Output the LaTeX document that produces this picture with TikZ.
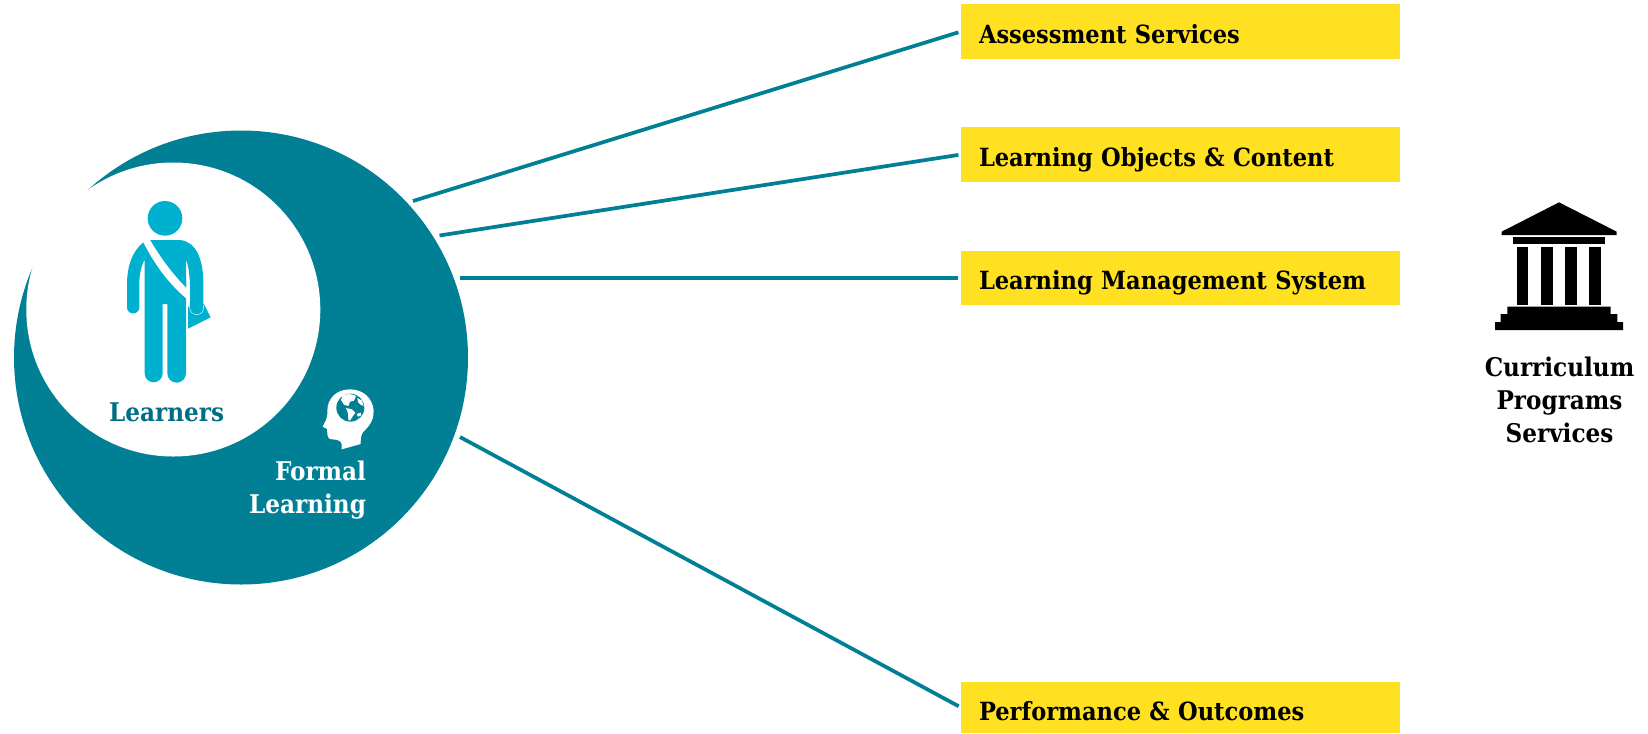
\documentclass[tikz,border=0pt]{standalone}
\usepackage{fontspec}
\setmainfont{DejaVu Serif Condensed}
\definecolor{teal1}{HTML}{007F95}
\definecolor{tealtxt}{HTML}{006F85}
\definecolor{yell}{HTML}{FFE122}
\definecolor{cyan1}{HTML}{00B0CF}
\tikzset{
  servicebox/.style={fill=yell,draw=none,anchor=north west,inner xsep=13.5pt,inner ysep=0pt,outer sep=0pt,
    text width=302.25pt,align=left,font=\fontsize{18.8pt}{22pt}\selectfont\bfseries,text=black},
  conn/.style={draw=teal1,line width=2.8pt,shorten >=2pt},
  disc/.style={circle,inner sep=0pt,outer sep=0pt,draw=none},
  lbl/.style={inner sep=0pt,outer sep=0pt,font=\fontsize{19.3pt}{24.75pt}\selectfont\bfseries}
}
\begin{document}
\begin{tikzpicture}[x=0.75pt,y=-0.75pt]
\useasboundingbox (0,0) rectangle (1648,733);
% circles
\node[disc,fill=teal1,minimum size=340.5pt] (formal) at (241,357.5) {};
\node[disc,fill=white,minimum size=220.5pt] (learnerdisc) at (173.3,309.5) {};
% person
\begin{scope}[shift={(100,180)},x=0.25pt,y=-0.25pt]
  \fill[cyan1] (195,115) circle (52);
  % bag
  \fill[cyan1] (262,380) -- (262,447) -- (332,412) -- (312,372) -- cycle;
  \draw[white,line width=1.2pt] (262,300) -- (262,447);
  \draw[white,line width=0.8pt] (310,375) -- (310,383) arc[start angle=0,end angle=180,radius=20] -- (270,370);
  % right arm with shoulder
  \fill[cyan1] (150,180) -- (240,180) .. controls (290,185) and (310,240) .. (310,310) -- (310,383)
     arc[start angle=0,end angle=180,radius=20] -- (270,310) .. controls (268,280) and (265,255) .. (258,238) -- (258,355) -- (215,300) -- cycle;
  % torso and left arm
  \fill[cyan1] (130,187) .. controls (95,215) and (82,260) .. (81,310) -- (81,382)
     arc[start angle=180,end angle=0,radius=18.5] -- (118,310) .. controls (118,280) and (125,255) .. (134,238)
     -- (134,580) arc[start angle=180,end angle=0,radius=27] -- (188,372) -- (202,372) -- (202,580)
     arc[start angle=180,end angle=0,radius=28] -- (258,300) -- (258,355) -- cycle;
  \fill[cyan1] (134,230) rectangle (258,372);
  % sash
  \fill[white] (130,187) -- (150,180) .. controls (180,230) and (215,280) .. (262,327) -- (262,358) .. controls (205,310) and (165,255) .. (130,187) -- cycle;
\end{scope}
% head icon
\begin{scope}[shift={(240,370)},x=0.25pt,y=-0.25pt]
  \fill[white] (305,238) -- (362,222) .. controls (362,205) and (363,195) .. (370,185)
    .. controls (392,165) and (402,145) .. (401,122) .. controls (398,85) and (370,58) .. (330,58)
    .. controls (290,58) and (262,85) .. (262,122) .. controls (262,135) and (262,142) .. (258,150)
    -- (248,170) -- (261,177) -- (262,190) .. controls (262,200) and (266,208) .. (276,208)
    .. controls (290,208) and (304,212) .. (305,222) -- cycle;
  \fill[teal1] (331,113) circle (42);
  \fill[white] (308,76) .. controls (320,70) and (340,72) .. (348,78) -- (342,92) -- (330,95) -- (325,108)
    -- (312,104) -- (303,90) -- cycle;
  \fill[white] (318,114) -- (336,118) -- (346,128) -- (336,142) -- (330,152) -- (325,150) -- (324,130) -- cycle;
  \fill[white] (352,84) -- (366,92) -- (371,108) -- (362,104) -- (354,96) -- cycle;
  \fill[white] (350,132) -- (362,128) -- (364,136) -- (354,140) -- cycle;
\end{scope}
% temple
\begin{scope}[shift={(1470,190)},x=0.25pt,y=-0.25pt]
  \fill[black] (267,37) -- (440,125) -- (440,135) -- (95,135) -- (95,125) -- cycle;
  \fill[black] (128,142) rectangle (405,162);
  \fill[black] (140,170) rectangle (173,346);
  \fill[black] (213,170) rectangle (250,346);
  \fill[black] (285,170) rectangle (320,346);
  \fill[black] (358,170) rectangle (393,346);
  \fill[black] (112,350) -- (422,350) -- (422,372) -- (442,372) -- (442,396) -- (459,396) -- (459,420)
     -- (75,420) -- (75,396) -- (92,396) -- (92,372) -- (112,372) -- cycle;
\end{scope}
% boxes
\node[servicebox,text height=29.25pt,text depth=12pt] (b1) at (961,4) {Assessment Services};
\node[servicebox,text height=29.25pt,text depth=12pt] (b2) at (961,127) {Learning Objects \& Content};
\node[servicebox,text height=28.75pt,text depth=11.75pt] (b3) at (961,251) {Learning Management System};
\node[servicebox,text height=29pt,text depth=9.25pt] (b4) at (961,682) {Performance \& Outcomes};
% connectors
\coordinate (c1) at (413,201);
\coordinate (c2) at (439.5,235.5);
\coordinate (c3) at (460,278);
\coordinate (c4) at (460,437);
\draw[conn] (c1) -- (b1.west);
\draw[conn] (c2) -- (b2.west);
\draw[conn] (c3) -- (b3.west);
\draw[conn] (c4) -- (b4.west);
% labels
\node[lbl,text=tealtxt,anchor=base] (learners) at (166.7,421.7) {Learners};
\node[lbl,text=white,anchor=base east,align=right] (formallabel) at (366,513.3) {Formal\\Learning};
\node[lbl,text=black,align=center,anchor=center] (curr) at (1559.5,400) {Curriculum\\Programs\\Services};
\end{tikzpicture}
\end{document}
